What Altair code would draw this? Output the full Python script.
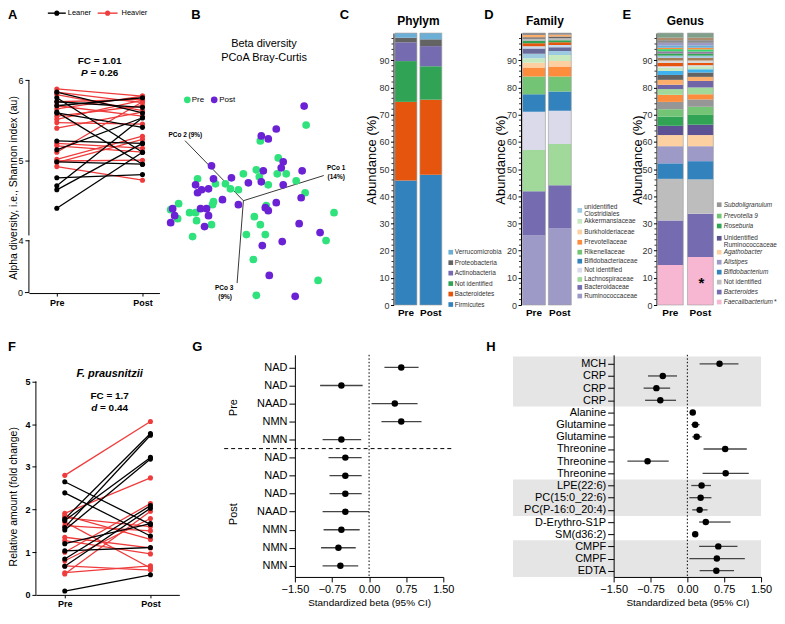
import altair as alt
import pandas as pd

FONT = "Liberation Sans"
RED = "#ef3b3b"
GREEN = "#2fe27b"
PURPLE = "#6b21d4"

# ---------------- data: panel A (Shannon index) ----------------
A_heavier_pre = [5.89, 5.85, 5.82, 5.73, 5.68, 5.64, 5.55, 5.51, 5.47, 5.40, 5.21, 5.18, 5.10, 5.01, 4.99, 4.97, 4.92]
A_heavier_post = [5.80, 5.72, 5.62, 5.76, 5.55, 5.80, 5.68, 5.75, 5.45, 5.60, 5.15, 5.10, 5.73, 5.30, 5.00, 5.26, 4.75]
A_leaner_pre = [5.85, 5.78, 5.73, 5.68, 5.60, 5.59, 5.24, 5.13, 4.98, 4.78, 4.68, 4.63, 4.40]
A_leaner_post = [5.59, 5.10, 5.66, 5.78, 4.95, 5.41, 5.21, 5.53, 4.95, 4.82, 5.53, 5.21, 5.10]

# ---------------- data: panel B (PCoA projection) ----------------
B_pre_x = [0.63, 0.17, 0.35, -0.46, -0.28, -0.18, 0.00, 0.13, 0.16, 0.25, 0.34, 0.43, 0.53, -0.13, -0.05, -0.30, -0.31, -0.65,
           -0.73, -0.54, -0.48, -0.66, -0.47, -0.32, -0.51, 0.62, 0.23, 0.11, 0.17, 0.03, 0.22, 0.91, 0.83, 0.10, 0.75, 0.13]
B_pre_y = [0.76, 0.60, 0.43, 0.22, 0.17, 0.17, 0.27, 0.31, 0.24, 0.16, 0.27, 0.27, 0.20, 0.12, 0.11, -0.01, -0.04, -0.03,
           -0.09, -0.12, -0.12, -0.18, -0.20, -0.24, -0.36, 0.08, -0.05, -0.16, -0.24, -0.34, -0.34, -0.12, -0.40, -0.59, -0.80, -0.95]
B_post_x = [0.61, 0.33, 0.18, 0.25, 0.40, 0.38, 0.59, 0.20, -0.32, -0.30, -0.12, 0.05, 0.18, 0.40, -0.48, -0.42, -0.35, -0.46, -0.21,
            -0.05, -0.37, -0.43, -0.71, -0.69, -0.73, -0.35, -0.39, 0.58, 0.33, 0.22, 0.25, 0.56, 0.77, 0.39, 0.19, 0.26, 0.52]
B_post_y = [0.95, 0.72, 0.65, 0.62, 0.39, 0.33, 0.30, 0.30, 0.35, 0.22, 0.23, 0.18, 0.19, 0.16, 0.16, 0.11, 0.12, 0.08, 0.01,
            -0.04, -0.08, -0.08, -0.08, -0.15, -0.22, -0.15, -0.26, 0.03, -0.02, -0.07, -0.10, -0.23, -0.32, -0.41, -0.45, -0.75, -0.96]
B_axis_end_x = [0.807, -0.586, -0.063]
B_axis_end_y = [0.253, 0.603, -0.827]

# ---------------- data: panel C (phylum) ----------------
C_names = ["Firmicutes", "Bacteroidetes", "Not identified", "Actinobacteria", "Proteobacteria", "Verrucomicrobia"]
C_pre = [45.8, 28.9, 15.0, 6.9, 1.7, 1.7]
C_post = [47.9, 27.6, 12.3, 7.4, 2.5, 2.3]
C_colors = ["#3182bd", "#e6550d", "#31a354", "#756bb1", "#636363", "#6baed6"]

# ---------------- data: panel D (family) ----------------
D_names = ["Ruminococcaceae", "Bacteroidaceae", "Lachnospiraceae", "Not identified", "Bifidobacteriaceae",
           "Rikenellaceae", "Prevotellaceae", "Burkholderiaceae", "Akkermansiaceae", "unidentified Clostridiales",
           "f11", "f12", "f13", "f14", "f15", "f16", "f17", "f18"]
D_pre = [25.6, 16.2, 15.2, 14.1, 6.4, 6.5, 3.3, 1.8, 1.6, 1.7, 1.9, 0.9, 1.1, 0.8, 0.8, 0.6, 0.8, 0.7]
D_post = [28.1, 15.9, 15.2, 12.2, 7.1, 5.5, 3.7, 2.0, 2.2, 1.5, 1.4, 0.8, 1.0, 0.8, 0.7, 0.6, 0.7, 0.6]
D_colors = ["#9e9ac8", "#756bb1", "#a1d99b", "#dadaeb", "#3182bd", "#74c476", "#fd8d3c", "#fdd0a2", "#c7e9c0", "#9ecae1",
            "#6a6a9a", "#c6dbef", "#e6550d", "#31a354", "#bdbdbd", "#636363", "#fdae6b", "#8c8c8c"]

# ---------------- data: panel E (genus) ----------------
E_names = ["Faecalibacterium", "Bacteroides", "Not identified", "Bifidobacterium", "Alistipes", "Agathobacter",
           "Unidentified Ruminococcaceae", "Roseburia", "Prevotella 9", "Subdoligranulum"] + ["g%d" % i for i in range(11, 32)]
E_pre = [14.7, 16.4, 15.3, 5.7, 6.3, 4.1, 3.4, 3.4, 2.7, 2.7,
         2.6, 2.1, 1.6, 1.8, 1.8, 1.5, 1.2, 0.5, 1.2, 0.9, 1.0, 0.8, 0.8, 0.8, 0.8, 0.5, 0.9, 0.9, 1.0, 0.9, 1.7]
E_post = [17.7, 15.9, 12.6, 6.7, 5.5, 4.1, 3.8, 3.6, 3.0, 2.7,
          1.9, 2.5, 2.4, 1.5, 1.6, 1.2, 1.1, 0.4, 0.8, 0.9, 1.0, 0.8, 0.7, 0.8, 0.8, 0.6, 0.9, 0.9, 1.0, 0.9, 1.7]
E_colors = ["#f7b6d2", "#756bb1", "#bdbdbd", "#3182bd", "#9e9ac8", "#fdd0a2", "#5c5192", "#31a354", "#74c476", "#969696",
            "#fd8d3c", "#a1d99b", "#6f64a8", "#fdae6b", "#636363", "#3fb1ec", "#c7e9c0", "#dadaeb", "#e6550d", "#d9d9d9",
            "#a67c52", "#9ecae1", "#31a354", "#8e7d9e", "#38d66b", "#fd8d3c", "#6baed6", "#9e9ac8", "#8c8c8c", "#b08c6e", "#7f9f8a"]

# ---------------- data: panel F (F. prausnitzii) ----------------
F_heavier_pre = [2.80, 1.91, 1.86, 1.81, 1.71, 1.35, 1.27, 1.00, 0.80, 0.68, 0.52, 0.49, 1.62]
F_heavier_post = [4.06, 2.74, 1.30, 1.60, 0.63, 1.10, 0.96, 2.14, 1.79, 0.58, 0.68, 1.96, 1.50]
F_leaner_pre = [2.65, 2.39, 1.78, 1.74, 1.58, 1.52, 1.03, 0.84, 0.67, 0.09, 1.20]
F_leaner_post = [1.65, 1.38, 3.78, 3.22, 3.74, 3.18, 1.11, 2.09, 2.03, 0.47, 1.67]

# ---------------- data: panel G ----------------
G_labels = ["NAD", "NAD", "NAAD", "NMN", "NMN", "NAD", "NAD", "NAD", "NAAD", "NMN", "NMN", "NMN"]
G_beta = [0.65, -0.56, 0.52, 0.65, -0.56, -0.48, -0.48, -0.48, -0.48, -0.56, -0.62, -0.58]
G_lo = [0.31, -0.99, 0.05, 0.25, -0.94, -0.82, -0.80, -0.80, -0.94, -0.92, -0.97, -0.94]
G_hi = [1.00, -0.13, 0.98, 1.06, -0.16, -0.15, -0.15, -0.15, 0.00, -0.19, -0.27, -0.22]

# ---------------- data: panel H ----------------
H_labels = ["MCH", "CRP", "CRP", "CRP", "Alanine", "Glutamine", "Glutamine", "Threonine", "Threonine", "Threonine",
            "LPE(22:6)", "PC(15:0_22:6)", "PC(P-16:0_20:4)", "D-Erythro-S1P", "SM(d36:2)", "CMPF", "CMPF", "EDTA"]
H_beta = [0.655, -0.50, -0.63, -0.55, 0.11, 0.16, 0.19, 0.77, -0.81, 0.78, 0.29, 0.27, 0.25, 0.375, 0.16, 0.63, 0.60, 0.59]
H_lo = [0.25, -0.80, -0.89, -0.86, 0.05, 0.08, 0.10, 0.33, -1.22, 0.31, 0.08, 0.04, 0.10, 0.24, 0.10, 0.24, 0.04, 0.25]
H_hi = [1.04, -0.21, -0.35, -0.23, 0.17, 0.25, 0.29, 1.21, -0.38, 1.25, 0.48, 0.49, 0.41, 0.88, 0.21, 1.02, 1.17, 0.95]
H_band_start = [-0.6, 9.5, 14.5]
H_band_end = [3.5, 12.5, 17.51]


# ================= helpers =================
def one():
    return pd.DataFrame({"k": [0]})


def tx(text, x, y, size=10, weight="normal", style="normal", align="center",
       baseline="middle", color="black", angle=None, line_height=None):
    kw = dict(align=align, baseline=baseline, fontSize=size, fontWeight=weight,
              fontStyle=style, color=color, font=FONT)
    if angle is not None:
        kw["angle"] = angle
    if "\n" in text:
        kw["lineBreak"] = "\n"
        if line_height:
            kw["lineHeight"] = line_height
    return alt.Chart(pd.DataFrame({"t": [text]})).mark_text(**kw).encode(
        x=alt.value(x), y=alt.value(y), text="t:N")


def letter(ch, x, y):
    return tx(ch, x, y, size=13, weight="bold", align="left", baseline="top")


def swatch(color, x, y, size=22):
    return alt.Chart(one()).mark_square(size=size, color=color, opacity=1).encode(
        x=alt.value(x), y=alt.value(y))


def dot(color, x, y, size=26):
    return alt.Chart(one()).mark_circle(size=size, color=color, opacity=1).encode(
        x=alt.value(x), y=alt.value(y))


def hseg(x1, x2, y, color, width=1.4):
    return alt.Chart(one()).mark_rule(color=color, strokeWidth=width).encode(
        x=alt.value(x1), x2=alt.value(x2), y=alt.value(y))


def spacer(w, h=1):
    return alt.Chart(one()).mark_point(size=0, opacity=0).encode(
        x=alt.value(0), y=alt.value(0)).properties(width=w, height=h)


def paired_df(hp, hq, lp, lq):
    rows = []
    for i, (p, q) in enumerate(zip(hp, hq)):
        rows += [dict(sid="h%d" % i, grp="Heavier", t=0, v=p), dict(sid="h%d" % i, grp="Heavier", t=1, v=q)]
    for i, (p, q) in enumerate(zip(lp, lq)):
        rows += [dict(sid="l%d" % i, grp="Leaner", t=0, v=p), dict(sid="l%d" % i, grp="Leaner", t=1, v=q)]
    return pd.DataFrame(rows)


def paired_layers(df, xs, ys, yaxis, axis_lo, axis_hi):
    grp_color = alt.Color("grp:N", scale=alt.Scale(domain=["Leaner", "Heavier"], range=["#000000", RED]), legend=None)
    x_axis = alt.Axis(values=[0, 1], labelExpr="datum.value == 0 ? 'Pre' : 'Post'", title=None,
                      labelFontWeight="bold", labelFontSize=9, tickSize=3, labelPadding=2, labelOverlap=False)
    lines = alt.Chart(df).mark_line(strokeWidth=1.3).encode(
        x=alt.X("t:Q", scale=xs, axis=x_axis),
        y=alt.Y("v:Q", scale=ys, axis=yaxis),
        color=grp_color, detail="sid:N")
    pts = alt.Chart(df).mark_circle(size=26, opacity=1).encode(
        x=alt.X("t:Q", scale=xs, axis=x_axis), y=alt.Y("v:Q", scale=ys, axis=yaxis), color=grp_color)
    rule = alt.Chart(pd.DataFrame({"y0": axis_lo, "y1": axis_hi})).mark_rule(color="black", strokeWidth=1).encode(
        x=alt.value(0), y=alt.Y("y0:Q", scale=ys, axis=yaxis), y2="y1:Q")
    return [lines, pts, rule]


# ================= panel A =================
dfA = paired_df(A_heavier_pre, A_heavier_post, A_leaner_pre, A_leaner_post)
xsA = alt.Scale(domain=[-0.3256, 1.1977], nice=False, zero=False)
ysA = alt.Scale(domain=[0, 4, 6.5875], range=[261, 208, 0], nice=False, zero=False)
yaxA = alt.Axis(values=[4, 5, 6], domain=False, tickSize=4, labelFontSize=9, labelPadding=2,
                labelOverlap=False,
                title="Alpha diversity, i.e., Shannon index (au)", titleFontSize=10.5, titleFontWeight="normal",
                titleAngle=270, titleX=-15.5, titleY=155, titleAlign="center", titleBaseline="middle")
panelA = alt.layer(
    *paired_layers(dfA, xsA, ysA, yaxA, [0, 4.06], [4.0, 6]),
    hseg(-4, 0, 260.5, "black", width=1),
    tx("0", -6, 261, size=9, align="right"),
    letter("A", -21, -24),
    hseg(19, 37, -20, "black"), dot("black", 28, -20),
    tx("Leaner", 39, -20, size=7.5, align="left"),
    hseg(69, 89, -20, RED), dot(RED, 79, -20),
    tx("Heavier", 93, -20, size=7.5, align="left"),
    tx("FC = 1.01", 71, 28, size=10, weight="bold"),
    tx("P", 52.2, 40, size=10, weight="bold", style="italic", align="left"),
    tx("= 0.26", 61.7, 40, size=10, weight="bold", align="left"),
).properties(width=131, height=261)

# ================= panel B =================
xsB = alt.Scale(domain=[-0.793, 0.957], nice=False, zero=False)
ysB = alt.Scale(domain=[-1.047, 1.683], nice=False, zero=False)
dfB = pd.DataFrame({"x": B_pre_x + B_post_x, "y": B_pre_y + B_post_y,
                    "g": ["Pre"] * len(B_pre_x) + ["Post"] * len(B_post_x)})
B_axes = alt.Chart(pd.DataFrame({"x0": [0, 0, 0], "y0": [0, 0, 0], "x1": B_axis_end_x, "y1": B_axis_end_y})).mark_rule(
    color="#222222", strokeWidth=0.9).encode(
    x=alt.X("x0:Q", scale=xsB, axis=None), y=alt.Y("y0:Q", scale=ysB, axis=None), x2="x1:Q", y2="y1:Q")
B_pts = alt.Chart(dfB).mark_circle(size=60, opacity=1).encode(
    x=alt.X("x:Q", scale=xsB, axis=None), y=alt.Y("y:Q", scale=ysB, axis=None),
    color=alt.Color("g:N", scale=alt.Scale(domain=["Pre", "Post"], range=[GREEN, PURPLE]), legend=None))
panelB = alt.layer(
    B_axes, B_pts,
    letter("B", 27, -24),
    tx("Beta diversity", 100, 11, size=11),
    tx("PCoA Bray-Curtis", 100, 25, size=11),
    dot(GREEN, 23, 67, size=45), tx("Pre", 27.5, 67, size=8, align="left"),
    dot(PURPLE, 50, 67, size=45), tx("Post", 55, 67, size=8, align="left"),
    tx("PCo 2 (9%)", 21, 102.5, size=6.5, weight="bold"),
    tx("PCo 1", 172.5, 135, size=6.5, weight="bold"),
    tx("(14%)", 172.5, 144, size=6.5, weight="bold"),
    tx("PCo 3", 60, 256, size=6.5, weight="bold"),
    tx("(9%)", 61, 265, size=6.5, weight="bold"),
).properties(width=175, height=273)


# ================= panels C, D, E =================
def bar_layers(names, pre, post, colors, title_x, pin, pout):
    rows = []
    for per, vals in (("Pre", pre), ("Post", post)):
        for k, (n, v) in enumerate(zip(names, vals)):
            rows.append(dict(period=per, taxon=n, value=v, rank=k))
    df = pd.DataFrame(rows)
    ys = alt.Scale(domain=[0, 100], nice=False, zero=False)
    xsc = alt.Scale(paddingInner=pin, paddingOuter=pout)
    xaxis = alt.Axis(title=None, labelAngle=0, labelFontWeight="bold", labelFontSize=10,
                     ticks=False, domain=False, labelPadding=3)
    yaxis = alt.Axis(values=list(range(0, 100, 10)), tickSize=3, labelFontSize=9, labelPadding=1.5,
                     labelColor="#333333", title="Abundance (%)", titleFontSize=13,
                     titleFontWeight="normal", titleAngle=270, titleX=title_x, titleY=127,
                     titleAlign="center", titleBaseline="middle")
    bar = alt.Chart(df).mark_bar(strokeWidth=0).encode(
        x=alt.X("period:N", sort=["Pre", "Post"], scale=xsc, axis=xaxis),
        y=alt.Y("value:Q", stack="zero", scale=ys, axis=yaxis),
        color=alt.Color("taxon:N", scale=alt.Scale(domain=names, range=colors), legend=None),
        order=alt.Order("rank:Q", sort="ascending"),
    )
    frame = alt.Chart(pd.DataFrame({"period": ["Pre", "Post"], "top": [100, 100], "bot": [0, 0]})).mark_bar(
        filled=False, stroke="#9a9a9a", strokeWidth=0.6).encode(
        x=alt.X("period:N", sort=["Pre", "Post"], scale=xsc, axis=xaxis),
        y=alt.Y("top:Q", scale=ys, axis=yaxis), y2="bot:Q")
    minor = alt.Chart(pd.DataFrame({"v": [v for v in range(2, 100, 2) if v % 10]})).mark_rule(
        color="black", strokeWidth=0.8).encode(
        x=alt.value(-2), x2=alt.value(0), y=alt.Y("v:Q", scale=ys, axis=yaxis))
    return [bar, frame, minor]


def legend_layers(labels, colors, ys, sx, tx_x, italic=None, size=6.5):
    out = []
    for i, (lab, col, y) in enumerate(zip(labels, colors, ys)):
        style = "italic" if (italic and italic[i]) else "normal"
        out.append(swatch(col, sx, y))
        out.append(tx(lab, tx_x, y, size=size, align="left", color="#333333", style=style, line_height=7))
    return out


C_leg = ["Verrucomicrobia", "Proteobacteria", "Actinobacteria", "Not identified", "Bacteroidetes", "Firmicutes"]
panelC = alt.layer(
    *bar_layers(C_names, C_pre, C_post, C_colors, -22, 0.12, 0.06),
    *legend_layers(C_leg, [C_colors[C_names.index(n)] for n in C_leg],
                   [220, 230.5, 241, 251.5, 262, 272.5], 57.5, 61.5),
    letter("C", -54, -24),
    tx("Phylym", 25, -12, size=12, weight="bold"),
).properties(width=50, height=273)

D_leg = ["unidentified\nClostridiales", "Akkermansiaceae", "Burkholderiaceae", "Prevotellaceae", "Rikenellaceae",
         "Bifidobacteriaceae", "Not identified", "Lachnospiraceae", "Bacteroidaceae", "Ruminococcaceae"]
D_leg_col = [D_colors[D_names.index(n.replace("\n", " "))] for n in D_leg]
D_leg_y = [178, 189, 199.7, 210, 220, 229, 238, 247.3, 255.3, 264]
D_leg_layers = legend_layers(D_leg[1:], D_leg_col[1:], D_leg_y[1:], 59, 63.5)
panelD = alt.layer(
    *bar_layers(D_names, D_pre, D_post, D_colors, -21, 0.115, 0.058),
    swatch(D_leg_col[0], 59, 178),
    tx(D_leg[0], 63.5, 174.5, size=6.5, align="left", color="#333333", line_height=7),
    *D_leg_layers,
    letter("D", -37, -24),
    tx("Family", 24, -12, size=12, weight="bold"),
).properties(width=52, height=273)

E_leg = ["Subdoligranulum", "Prevotella 9", "Roseburia", "Unidentified\nRuminococcaceae", "Agathobacter",
         "Alistipes", "Bifidobacterium", "Not identified", "Bacteroides", "Faecalibacterium"]
E_leg_col = [E_colors[E_names.index(n.replace("\n", " "))] for n in E_leg]
E_leg_italic = [True, True, True, False, True, True, True, False, True, True]
panelE = alt.layer(
    *bar_layers(E_names, E_pre, E_post, E_colors, -19, 0.14, 0.03),
    *legend_layers(E_leg, E_leg_col, [172.3, 183.7, 193.7, 206, 220, 230, 240, 250, 260, 270], 63, 67.5,
                   italic=E_leg_italic),
    tx("*", 118, 270, size=7, color="#333333", align="left"),
    tx("*", 45, 251, size=15, weight="bold"),
    letter("E", -34, -24),
    tx("Genus", 29, -12, size=12, weight="bold"),
).properties(width=58, height=273)

# ================= panel F =================
dfF = paired_df(F_heavier_pre, F_heavier_post, F_leaner_pre, F_leaner_post)
xsF = alt.Scale(domain=[-0.3372, 1.3372], nice=False, zero=False)
ysF = alt.Scale(domain=[0, 5.623], nice=False, zero=False)
yaxF = alt.Axis(values=[0, 1, 2, 3, 4, 5], domain=False, tickSize=4, labelFontSize=9, labelFontWeight="bold",
                labelPadding=2, labelOverlap=False, title="Relative amount (fold change)", titleFontSize=10.5,
                titleFontWeight="normal", titleAngle=270, titleX=-22.5, titleY=142, titleAlign="center",
                titleBaseline="middle")
panelF = alt.layer(
    *paired_layers(dfF, xsF, ysF, yaxF, [0], [5]),
    letter("F", -28, -14),
    tx("F. prausnitzii", 74, 19, size=11, weight="bold", style="italic"),
    tx("FC = 1.7", 74, 41, size=10, weight="bold"),
    tx("d", 55.5, 53, size=10, weight="bold", style="italic", align="left"),
    tx("= 0.44", 64.4, 53, size=10, weight="bold", align="left"),
).properties(width=144, height=241)


# ================= panels G, H =================
def forest_layers(labels, beta, lo, hi, dom, h):
    df = pd.DataFrame({"i": list(range(len(labels))), "b": beta, "lo": lo, "hi": hi})
    xs = alt.Scale(domain=[-1.5, 1.5], nice=False, zero=False)
    ys = alt.Scale(domain=dom, reverse=True, nice=False, zero=False)
    label_js = "[" + ",".join("'" + s + "'" for s in labels) + "]"
    xaxis = alt.Axis(values=[-1.5, -0.75, 0, 0.75, 1.5], format=".2f", labelFontSize=11, tickSize=5,
                     labelFlush=False, labelOverlap=False, labelPadding=2,
                     title="Standardized beta (95% CI)", titleFontSize=10, titleFontWeight="normal",
                     titleY=21, titleBaseline="top", zindex=1)
    yaxis = alt.Axis(values=list(range(len(labels))), labelExpr=label_js + "[datum.value]", tickSize=6,
                     labelFontSize=11, labelPadding=2, title=None, zindex=1, labelOverlap=False)
    zero = alt.Chart(pd.DataFrame({"z": [0]})).mark_rule(color="black", strokeWidth=1, strokeDash=[1.5, 2]).encode(
        x=alt.X("z:Q", scale=xs, axis=xaxis), y=alt.value(0), y2=alt.value(h))
    ci = alt.Chart(df).mark_rule(color="#444444", strokeWidth=1.3).encode(
        x=alt.X("lo:Q", scale=xs, axis=xaxis), x2="hi:Q", y=alt.Y("i:Q", scale=ys, axis=yaxis))
    dots = alt.Chart(df).mark_circle(size=42, color="black", opacity=1).encode(
        x=alt.X("b:Q", scale=xs, axis=xaxis), y=alt.Y("i:Q", scale=ys, axis=yaxis))
    return xs, ys, xaxis, yaxis, zero, ci, dots


xsG, ysG, xaxG, yaxG, zG, ciG, dotsG = forest_layers(G_labels, G_beta, G_lo, G_hi, [-0.7017, 11.619], 223)
sepG = alt.Chart(pd.DataFrame({"s": [4.5]})).mark_rule(color="black", strokeWidth=1, strokeDash=[4, 3]).encode(
    y=alt.Y("s:Q", scale=ysG, axis=yaxG), x=alt.value(-71), x2=alt.value(159))
panelG = alt.layer(
    ciG, dotsG, zG, sepG,
    letter("G", -103, -14),
    tx("Pre", -61, 53, size=11, angle=270),
    tx("Post", -61, 160, size=11, angle=270),
).properties(width=149, height=223)

xsH, ysH, xaxH, yaxH, zH, ciH, dotsH = forest_layers(H_labels, H_beta, H_lo, H_hi, [-0.7365, 17.512], 223)
bandsH = alt.Chart(pd.DataFrame({"y0": H_band_start, "y1": H_band_end})).mark_rect(color="#e5e5e5").encode(
    x=alt.value(-101), x2=alt.value(148), y=alt.Y("y0:Q", scale=ysH, axis=yaxH), y2="y1:Q")
panelH = alt.layer(
    bandsH, zH, ciH, dotsH,
    letter("H", -128, -14),
).properties(width=148, height=223)

# ================= layout =================
row1 = alt.hconcat(panelA, spacer(5), panelB, spacer(55), panelC, spacer(78), panelD, spacer(84), panelE,
                   spacing=0, bounds="flush").resolve_scale(color="independent")
row2 = alt.hconcat(spacer(7), panelF, spacer(116), panelG, spacer(171), panelH,
                   spacing=0, bounds="flush").resolve_scale(color="independent")

chart = alt.vconcat(row1, row2, spacing=23).resolve_scale(color="independent").properties(
    padding=0
).configure(font=FONT).configure_view(stroke=None).configure_axis(
    labelFont=FONT, titleFont=FONT, grid=False, domainColor="black", tickColor="black",
    labelColor="black", titleColor="black", domainWidth=1, tickWidth=1
)

chart.save("out.html", embed_options={"renderer": "svg", "actions": False})
